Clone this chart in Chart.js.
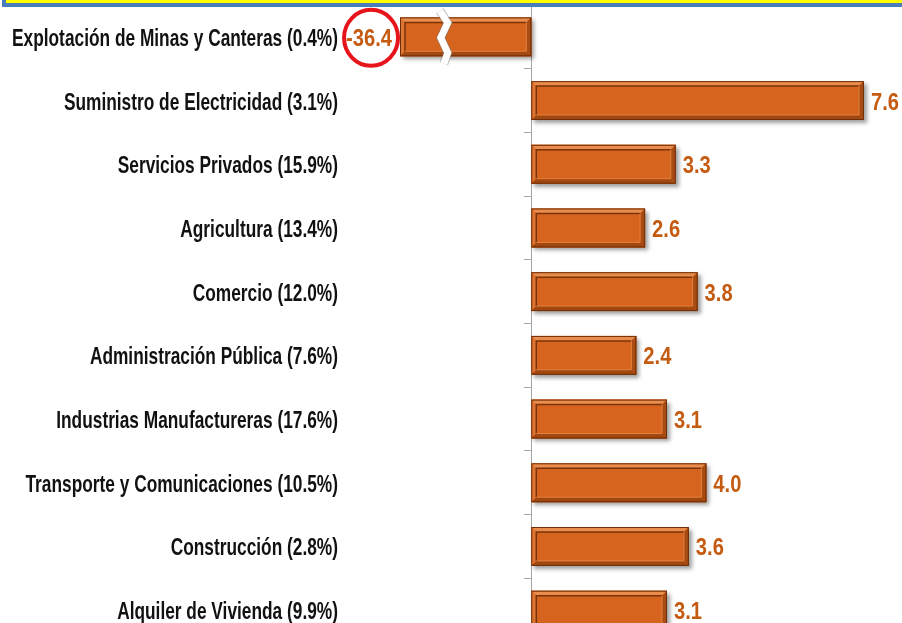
<!DOCTYPE html>
<html><head><meta charset="utf-8">
<script src="https://cdn.jsdelivr.net/npm/chart.js@4/dist/chart.umd.min.js"></script>
<style>
html,body{margin:0;padding:0;background:#fff;overflow:hidden;width:902px;height:623px;}
#wrap{position:absolute;left:0;top:0;width:902px;height:642px;}
#band{position:absolute;left:2px;top:-20px;width:920px;height:19px;background:#FFFF00;border:4px solid #4A7EBB;z-index:2;}
</style></head><body>
<div id="band"></div>
<div id="wrap"><canvas id="c"></canvas></div>
<script>
const categories = [
  'Explotación de Minas y Canteras (0.4%)',
  'Suministro de Electricidad (3.1%)',
  'Servicios Privados (15.9%)',
  'Agricultura (13.4%)',
  'Comercio (12.0%)',
  'Administración Pública (7.6%)',
  'Industrias Manufactureras (17.6%)',
  'Transporte y Comunicaciones (10.5%)',
  'Construcción (2.8%)',
  'Alquiler de Vivienda (9.9%)'
];
const growth = [-36.4, 7.6, 3.3, 2.6, 3.8, 2.4, 3.1, 4.0, 3.6, 3.1];
const valueLabels = growth.map(v => v.toFixed(1));
const axisMin = -3.0;
const axisMax = 8.47;
const breakAt = -2.0;

const FONT = "bold 24px 'Liberation Sans', Arial, sans-serif";
const BASE = '#D6641E';

function barBox(chart, el) {
  const p = el.getProps(['x', 'y', 'base', 'height'], true);
  const ca = chart.chartArea;
  const L = Math.max(Math.min(p.x, p.base), ca.left);
  const R = Math.max(p.x, p.base);
  return { L, R, T: p.y - p.height / 2, B: p.y + p.height / 2, y: p.y };
}

const bevelPlugin = {
  id: 'bevel',
  beforeDatasetsDraw(chart) {
    const ctx = chart.ctx;
    const meta = chart.getDatasetMeta(0);
    ctx.save();
    ctx.shadowColor = 'rgba(0,0,0,0.38)';
    ctx.shadowBlur = 4;
    ctx.shadowOffsetX = 3;
    ctx.shadowOffsetY = 3;
    ctx.fillStyle = BASE;
    meta.data.forEach(el => {
      const b = barBox(chart, el);
      ctx.fillRect(b.L, b.T, b.R - b.L, b.B - b.T);
    });
    ctx.restore();
  },
  afterDatasetsDraw(chart) {
    const ctx = chart.ctx;
    const meta = chart.getDatasetMeta(0);
    const xs = chart.scales.x;
    const ys = chart.scales.y;
    const ca = chart.chartArea;
    const i = 5;
    ctx.save();
    meta.data.forEach((el, idx) => {
      const { L, R, T, B } = barBox(chart, el);
      const poly = (pts, col) => {
        ctx.beginPath();
        ctx.moveTo(pts[0][0], pts[0][1]);
        for (let k = 1; k < pts.length; k++) ctx.lineTo(pts[k][0], pts[k][1]);
        ctx.closePath();
        ctx.fillStyle = col;
        ctx.fill();
      };
      poly([[L, T], [R, T], [R - i, T + i], [L + i, T + i]], '#EA8C4C');
      poly([[L, T], [L + i, T + i], [L + i, B - i], [L, B]], '#DF7534');
      poly([[L, B], [L + i, B - i], [R - i, B - i], [R, B]], '#A14811');
      poly([[R, T], [R, B], [R - i, B - i], [R - i, T + i]], '#A84C14');
      ctx.strokeStyle = '#7A3308';
      ctx.lineWidth = 1.5;
      ctx.beginPath();
      ctx.moveTo(L + i, B - i);
      ctx.lineTo(L + i, T + i);
      ctx.lineTo(R - i, T + i);
      ctx.stroke();
      ctx.strokeStyle = '#E4823F';
      ctx.lineWidth = 1;
      ctx.beginPath();
      ctx.moveTo(R - i, T + i);
      ctx.lineTo(R - i, B - i);
      ctx.lineTo(L + i, B - i);
      ctx.stroke();
      ctx.strokeStyle = '#6E2E08';
      ctx.lineWidth = 1;
      ctx.strokeRect(L + 0.5, T + 0.5, R - L - 1, B - T - 1);
    });
    ctx.restore();

    // break mark on truncated bar
    meta.data.forEach((el, idx) => {
      if (growth[idx] >= axisMin) return;
      const b = barBox(chart, el);
      const xc = xs.getPixelForValue(breakAt);
      const pts = [[-4, -26], [4, -14], [-3, 1], [4, 16], [0, 27]];
      ctx.save();
      ctx.lineJoin = 'miter';
      ctx.beginPath();
      pts.forEach((p, k) => k ? ctx.lineTo(xc + p[0], b.y + p[1]) : ctx.moveTo(xc + p[0], b.y + p[1]));
      ctx.strokeStyle = 'rgba(120,120,120,0.45)';
      ctx.lineWidth = 9;
      ctx.stroke();
      ctx.strokeStyle = '#FFFFFF';
      ctx.lineWidth = 7;
      ctx.stroke();
      ctx.restore();
    });

    // value labels
    ctx.save();
    ctx.font = FONT;
    const nsx = 28 / ctx.measureText('7.6').width;
    ctx.fillStyle = '#C55A11';
    ctx.textBaseline = 'alphabetic';
    meta.data.forEach((el, idx) => {
      const b = barBox(chart, el);
      const base = b.y + 9;
      if (growth[idx] < axisMin) {
        const xr = ca.left - 8;
        const w = ctx.measureText(valueLabels[idx]).width * nsx;
        ctx.save();
        ctx.translate(xr, base);
        ctx.scale(nsx, 1);
        ctx.textAlign = 'right';
        ctx.fillText(valueLabels[idx], 0, 0);
        ctx.restore();
        ctx.save();
        ctx.strokeStyle = '#E8141B';
        ctx.lineWidth = 4;
        ctx.beginPath();
        ctx.ellipse(xr - w / 2 + 2, b.y + 1, 27, 28, 0, 0, Math.PI * 2);
        ctx.stroke();
        ctx.restore();
      } else {
        const xl = xs.getPixelForValue(growth[idx]) + 7;
        ctx.save();
        ctx.translate(xl, base);
        ctx.scale(nsx, 1);
        ctx.textAlign = 'left';
        ctx.fillText(valueLabels[idx], 0, 0);
        ctx.restore();
      }
    });
    ctx.restore();

    // category labels
    ctx.save();
    ctx.font = FONT;
    const sx = 326 / ctx.measureText(categories[0]).width;
    ctx.fillStyle = '#111111';
    ctx.textAlign = 'right';
    categories.forEach((lab, idx) => {
      const yc = ys.getPixelForTick(idx);
      ctx.save();
      ctx.translate(ys.right - 62, yc + 9);
      ctx.scale(sx, 1);
      ctx.fillText(lab, 0, 0);
      ctx.restore();
    });
    ctx.restore();
  }
};

new Chart(document.getElementById('c'), {
  type: 'bar',
  data: {
    labels: categories,
    datasets: [{
      data: growth,
      backgroundColor: BASE,
      borderWidth: 0,
      barPercentage: 0.61,
      categoryPercentage: 1.0
    }]
  },
  options: {
    indexAxis: 'y',
    responsive: true,
    maintainAspectRatio: false,
    animation: false,
    layout: { padding: { top: 5, left: 0, right: 0, bottom: 0 } },
    plugins: { legend: { display: false }, tooltip: { enabled: false } },
    scales: {
      x: { type: 'linear', min: axisMin, max: axisMax, display: false },
      y: {
        type: 'category', position: 'left',
        grid: { display: false }, border: { display: false },
        ticks: { display: false },
        afterFit(s) { s.width = 400; }
      },
      y2: {
        type: 'category', position: { x: 0 },
        grid: { display: true, drawOnChartArea: false, drawTicks: true, tickLength: 7, offset: true, color: '#A6A6A6' },
        border: { display: true, color: '#A6A6A6', width: 1 },
        ticks: { display: false }
      }
    }
  },
  plugins: [bevelPlugin]
});
</script>
</body></html>
